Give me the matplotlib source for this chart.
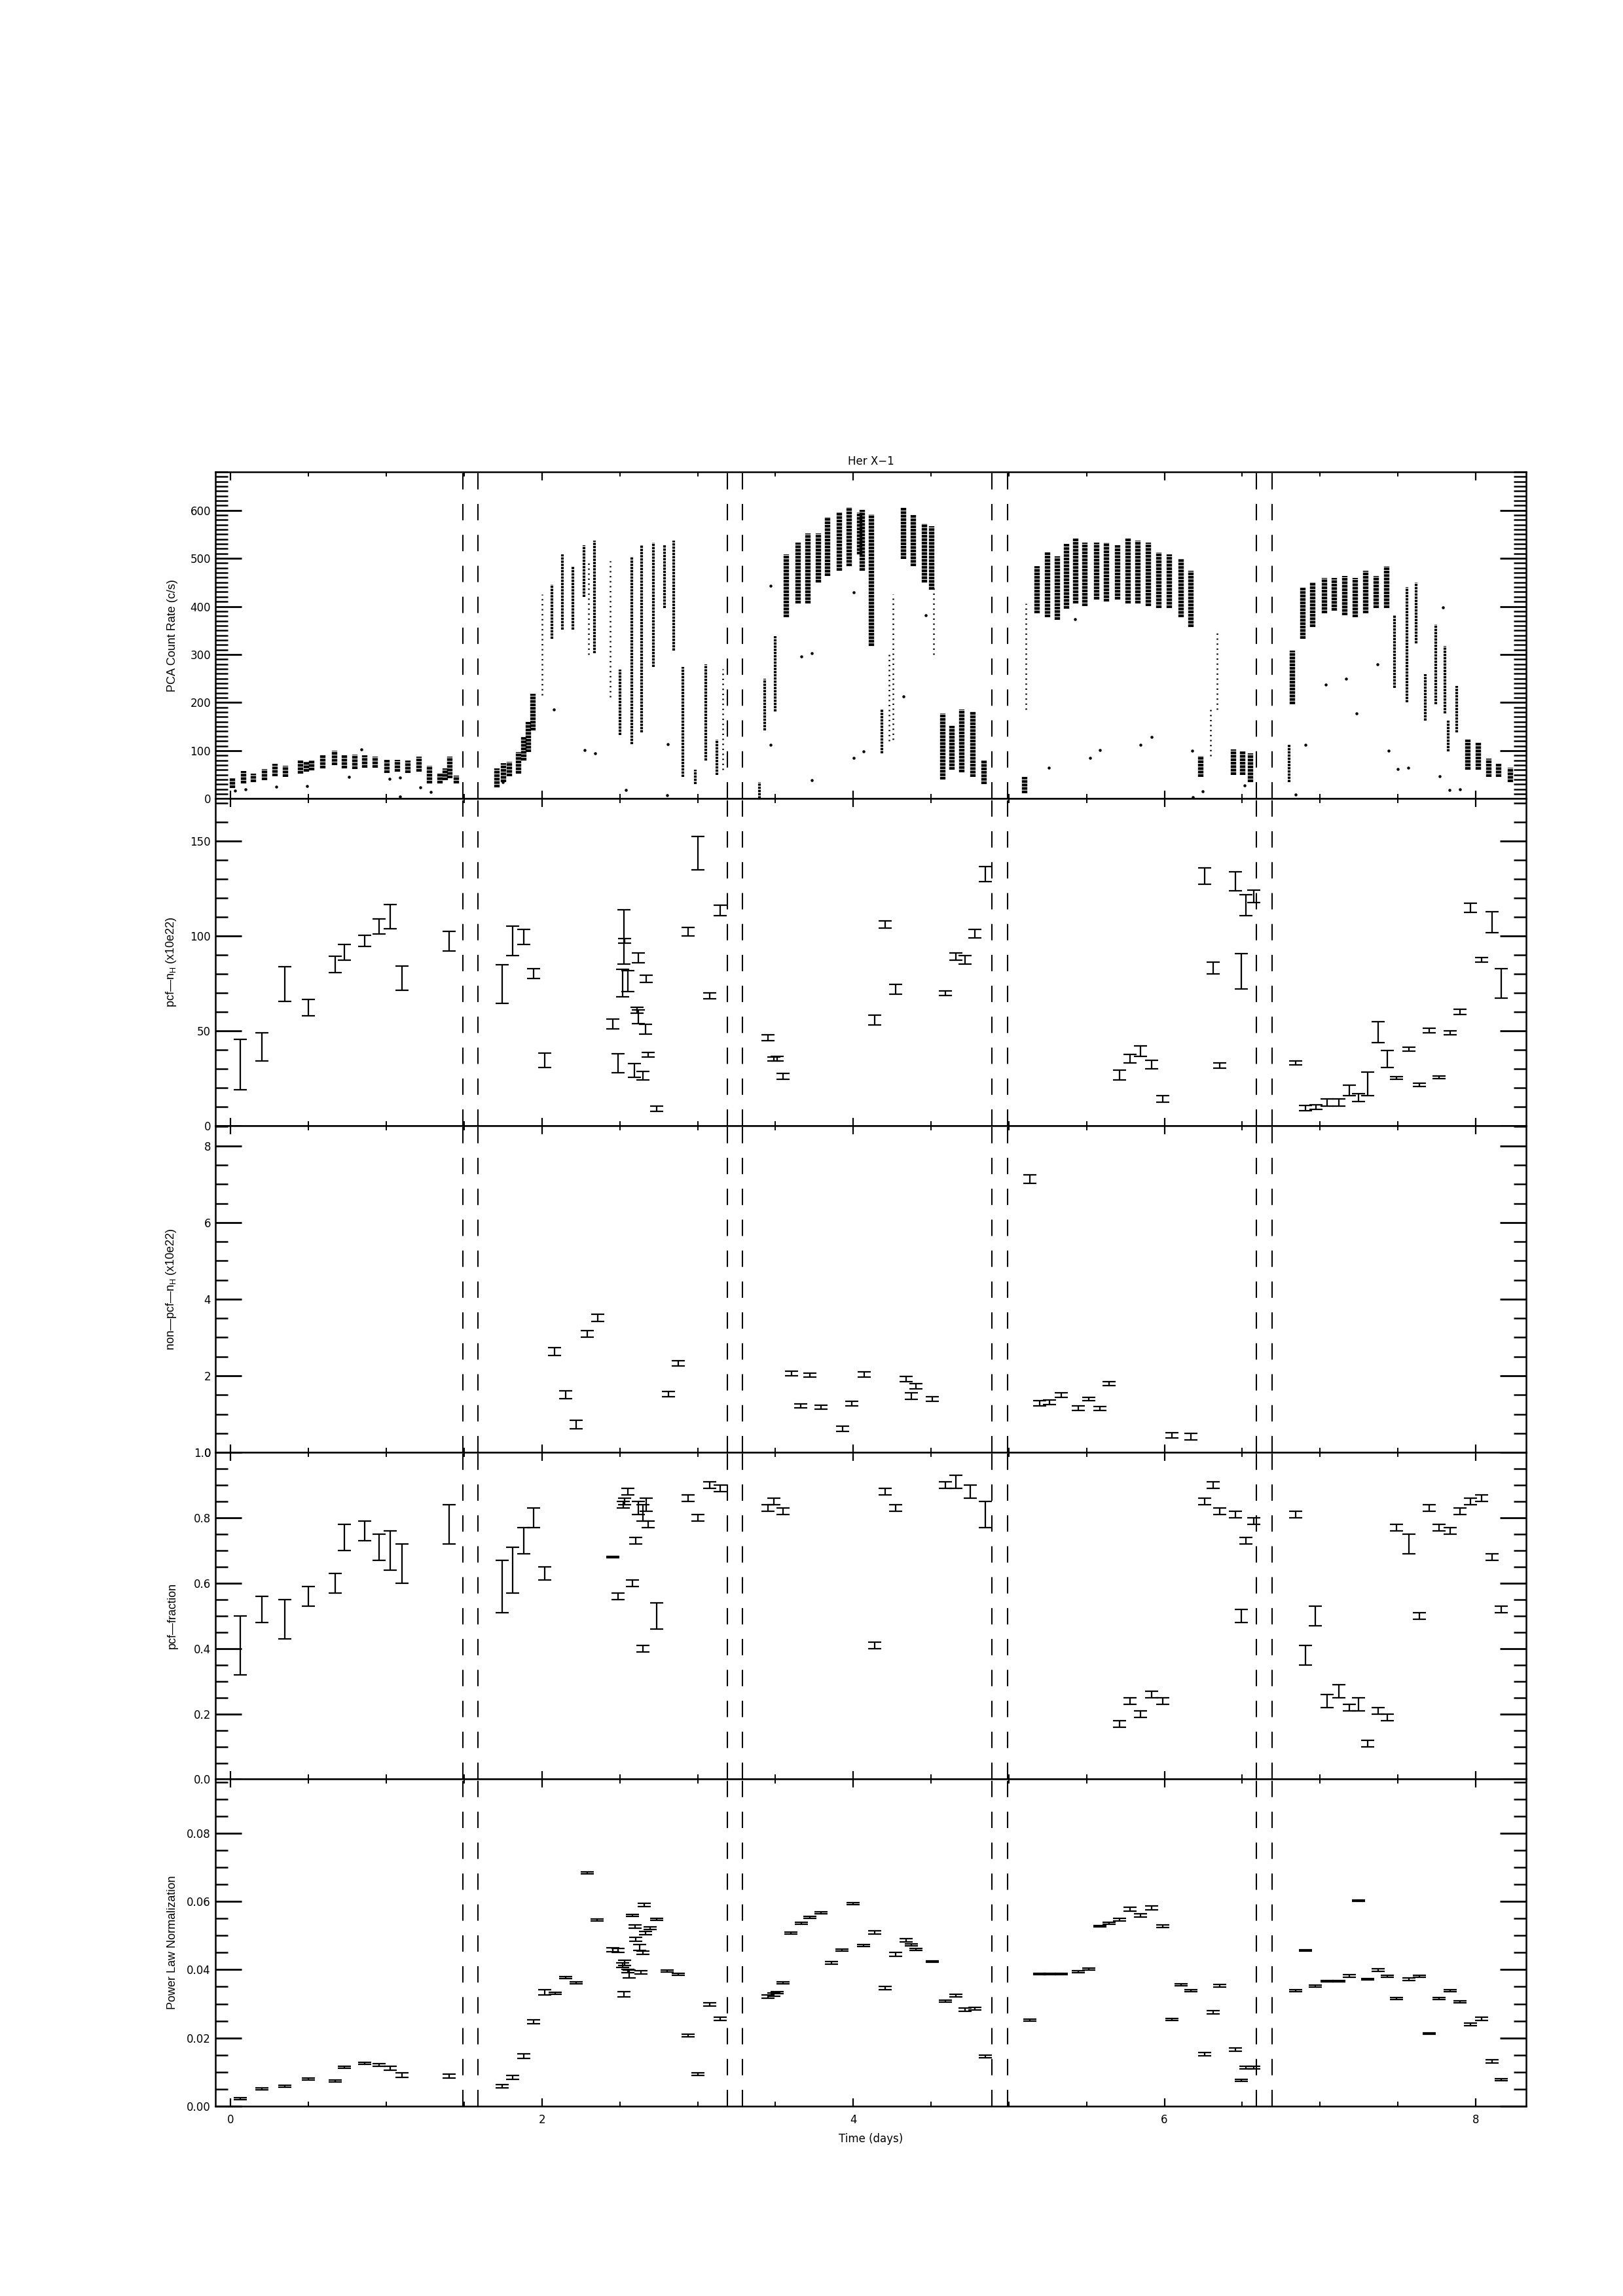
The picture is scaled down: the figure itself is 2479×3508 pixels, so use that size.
import numpy as np
import matplotlib
matplotlib.use("Agg")
import matplotlib.pyplot as plt
from matplotlib import font_manager
from matplotlib.ticker import MultipleLocator, FormatStrFormatter

# fonts: narrow face for numbers/title, plain sans for the axis titles
names = {f.name for f in font_manager.fontManager.ttflist}
NARROW = "Liberation Sans Narrow" if "Liberation Sans Narrow" in names else "DejaVu Sans"
TICK_FS = 15 if NARROW != "DejaVu Sans" else 12
LABEL_FONT = "Liberation Sans"

plt.rcParams["lines.scale_dashes"] = False
plt.rcParams["mathtext.fontset"] = "custom"
plt.rcParams["mathtext.rm"] = LABEL_FONT

# eclipse ingress / egress (days)
eclipse_t = [1.49, 1.59, 3.19, 3.29, 4.89, 4.99, 6.59, 6.69]

# ---- PCA light curve, densely sampled pointings (time, min rate, max rate)
lc_t = [0.009, 0.082, 0.146, 0.217, 0.284, 0.350, 0.447, 0.485, 0.520, 0.593,
        0.668, 0.732, 0.797, 0.861, 0.926, 1.005, 1.072, 1.140, 1.211, 1.276,
        1.345, 1.377, 1.409, 1.448, 1.710, 1.753, 1.791, 1.849, 1.881, 1.914,
        1.942,
        3.570, 3.644, 3.709, 3.777, 3.836, 3.910, 3.975, 4.043, 4.058, 4.118,
        4.325, 4.384, 4.457, 4.502, 4.575, 4.634, 4.699, 4.767, 4.841, 5.100,
        5.180, 5.248, 5.313, 5.372, 5.431, 5.490, 5.564, 5.629, 5.697, 5.765,
        5.830, 5.898, 5.963, 6.031, 6.105, 6.170, 6.235, 6.442, 6.501, 6.554,
        6.820, 6.888, 6.953, 7.028, 7.092, 7.160, 7.228, 7.293, 7.361, 7.426,
        7.948, 8.016, 8.084, 8.149, 8.223]
lc_lo = [22, 32, 34, 38, 47, 46, 52, 56, 59, 63,
         70, 63, 61, 65, 65, 54, 56, 54, 56, 32,
         32, 38, 43, 32, 23, 34, 47, 52, 79, 97,
         142,
         377, 406, 406, 450, 464, 474, 484, 508, 474, 318,
         499, 484, 450, 435, 40, 60, 55, 45, 30, 11,
         386, 377, 372, 395, 406, 401, 415, 410, 415, 406,
         406, 401, 396, 396, 377, 357, 45, 50, 50, 35,
         196, 333, 357, 386, 391, 381, 377, 386, 396, 396,
         60, 60, 45, 45, 35]
lc_hi = [43, 57, 52, 62, 72, 68, 79, 77, 79, 90,
         100, 90, 92, 90, 88, 81, 81, 79, 88, 68,
         54, 63, 87, 48, 63, 74, 77, 97, 128, 160,
         218,
         508, 533, 552, 552, 586, 596, 606, 596, 601, 591,
         606, 591, 572, 567, 177, 152, 186, 181, 79, 45,
         484, 513, 504, 530, 542, 533, 533, 533, 528, 542,
         537, 533, 513, 508, 499, 474, 89, 103, 98, 94,
         308, 440, 450, 459, 459, 464, 459, 474, 464, 484,
         123, 118, 84, 74, 64]

# thinner pointings (fast variability / dips)
th_t = [2.064, 2.129, 2.197, 2.271, 2.336, 2.501, 2.575, 2.640, 2.714, 2.788,
        2.847, 2.906, 2.986, 3.054, 3.122, 3.399, 3.432, 3.497, 4.185, 6.800,
        7.477, 7.559, 7.618, 7.677, 7.742, 7.801, 7.825, 7.877]
th_lo = [333, 352, 352, 420, 303, 133, 113, 138, 274, 396,
         308, 45, 30, 79, 50, 0, 142, 181, 94, 35,
         230, 201, 323, 162, 196, 177, 99, 138]
th_hi = [445, 508, 484, 528, 537, 269, 503, 528, 533, 528,
         537, 274, 60, 279, 123, 35, 250, 338, 186, 113,
         381, 440, 450, 259, 362, 318, 162, 235]

# sparsely sampled streaks
sp_t = [2.000, 2.300, 2.439, 4.257, 4.516, 5.110, 6.297, 6.339, 3.160, 4.230]
sp_lo = [215, 300, 211, 123, 300, 186, 89, 186, 60, 120]
sp_hi = [425, 490, 494, 425, 440, 406, 186, 352, 270, 300]

# isolated points
pt_t = [0.028, 0.095, 0.294, 0.492, 0.758, 0.840, 1.022, 1.089, 1.089, 1.220,
        1.284, 1.748, 2.075, 2.274, 2.343, 2.541, 2.805, 2.807, 3.467, 3.665,
        3.733, 3.733, 4.002, 4.067, 4.002, 3.467, 4.325, 4.464, 5.255, 5.521,
        5.586, 5.848, 5.916, 6.178, 6.246, 6.182, 6.513, 6.841, 6.908, 7.038,
        7.168, 7.236, 7.371, 7.440, 7.500, 7.567, 7.768, 7.833, 7.901, 7.788,
        5.426]
pt_r = [17, 19, 25, 26, 46, 103, 41, 44, 5, 23,
        14, 35, 185, 101, 94, 18, 7, 114, 112, 296,
        303, 38, 85, 99, 429, 443, 213, 381, 65, 85,
        101, 112, 129, 100, 15, 3, 28, 8, 112, 238,
        250, 178, 280, 100, 61, 64, 47, 18, 19, 398,
        373]

# ---- partial covering column density (x1e22)
nh_t = [0.062, 0.201, 0.346, 0.499, 0.670, 0.729, 0.862, 0.951, 1.025, 1.099,
        1.403, 1.742, 1.813, 1.881, 1.946, 2.017, 2.454, 2.487, 2.516, 2.528,
        2.531, 2.552, 2.593, 2.611, 2.620, 2.620, 2.649, 2.664, 2.670, 2.684,
        2.738, 2.939, 3.003, 3.077, 3.145, 3.452, 3.491, 3.512, 3.550, 4.138,
        4.206, 4.274, 4.593, 4.661, 4.720, 4.782, 4.847, 5.710, 5.778, 5.848,
        5.916, 5.987, 6.258, 6.315, 6.356, 6.454, 6.495, 6.525, 6.572, 6.841,
        6.908, 6.974, 7.045, 7.121, 7.189, 7.248, 7.304, 7.375, 7.434, 7.490,
        7.570, 7.638, 7.700, 7.765, 7.836, 7.901, 7.966, 8.036, 8.104, 8.166]
nh = [32.2, 41.6, 74.7, 62.2, 85.0, 91.4, 97.4, 105.0, 110.2, 77.8,
      97.3, 74.6, 97.4, 99.5, 80.2, 34.4, 53.6, 32.7, 75.1, 99.5,
      97.4, 76.2, 29.1, 60.7, 88.4, 57.4, 26.3, 50.9, 77.4, 37.3,
      8.8, 102.2, 143.6, 68.5, 113.5, 46.3, 35.1, 35.3, 25.9, 55.6,
      106.0, 71.8, 69.8, 89.1, 87.5, 101.1, 132.5, 26.6, 35.3, 39.3,
      32.1, 14.1, 131.6, 83.1, 31.7, 128.8, 81.4, 116.3, 120.8, 33.1,
      9.1, 9.7, 12.1, 12.1, 18.5, 14.7, 22.0, 49.3, 35.1, 25.2,
      40.3, 21.4, 50.1, 25.5, 48.9, 59.9, 114.8, 87.5, 107.4, 75.0]
nh_err = [13.2, 7.4, 9.1, 4.4, 4.3, 4.1, 3.0, 4.0, 6.4, 6.4,
          5.2, 10.2, 7.8, 4.0, 2.6, 3.8, 2.6, 5.0, 7.2, 14.4,
          1.3, 5.4, 3.6, 1.6, 2.6, 3.6, 2.4, 2.6, 1.9, 1.3,
          1.3, 2.3, 8.8, 1.5, 2.8, 1.5, 1.2, 1.2, 1.6, 2.6,
          2.0, 2.6, 1.2, 1.8, 2.2, 2.3, 4.0, 2.6, 2.1, 2.8,
          2.2, 1.8, 4.3, 3.1, 1.5, 5.0, 9.4, 5.6, 3.3, 1.0,
          1.4, 1.1, 2.0, 2.0, 2.7, 2.2, 6.2, 5.6, 4.5, 0.7,
          1.1, 0.9, 1.1, 0.8, 1.1, 1.3, 2.4, 1.2, 5.5, 7.7]

# ---- non partial covering column density (x1e22)
nh2_t = [2.082, 2.153, 2.221, 2.289, 2.360, 2.812, 2.877, 3.603, 3.662, 3.721,
         3.792, 3.931, 3.990, 4.070, 4.339, 4.374, 4.404, 4.507, 5.137, 5.196,
         5.263, 5.335, 5.447, 5.512, 5.583, 5.645, 6.049, 6.170]
nh2 = [2.63, 1.51, 0.72, 3.09, 3.51, 1.52, 2.32, 2.06, 1.21, 2.01,
       1.18, 0.61, 1.27, 2.04, 1.92, 1.47, 1.72, 1.39, 7.13, 1.28,
       1.31, 1.49, 1.16, 1.39, 1.15, 1.80, 0.45, 0.41]
nh2_err = [0.10, 0.10, 0.11, 0.09, 0.09, 0.07, 0.07, 0.06, 0.05, 0.05,
           0.05, 0.07, 0.06, 0.07, 0.07, 0.08, 0.07, 0.06, 0.11, 0.07,
           0.06, 0.06, 0.06, 0.04, 0.05, 0.05, 0.07, 0.08]

# ---- covering fraction
pcf_t = [0.062, 0.201, 0.346, 0.499, 0.670, 0.729, 0.862, 0.951, 1.025, 1.099,
         1.403, 1.742, 1.813, 1.881, 1.946, 2.017, 2.454, 2.487, 2.522, 2.531,
         2.552, 2.581, 2.602, 2.620, 2.649, 2.670, 2.684, 2.649, 2.738, 2.939,
         3.003, 3.077, 3.145, 3.452, 3.491, 3.550, 4.138, 4.206, 4.274, 4.593,
         4.661, 4.750, 4.847, 5.710, 5.778, 5.848, 5.916, 5.987, 6.258, 6.315,
         6.356, 6.454, 6.495, 6.525, 6.572, 6.841, 6.908, 6.968, 7.045, 7.121,
         7.189, 7.248, 7.304, 7.375, 7.434, 7.490, 7.570, 7.638, 7.700, 7.765,
         7.836, 7.901, 7.966, 8.036, 8.104, 8.166]
pcf = [0.41, 0.52, 0.49, 0.56, 0.60, 0.74, 0.76, 0.71, 0.70, 0.66,
       0.78, 0.59, 0.64, 0.73, 0.80, 0.63, 0.68, 0.56, 0.84, 0.85,
       0.88, 0.60, 0.73, 0.83, 0.815, 0.84, 0.78, 0.40, 0.50, 0.86,
       0.80, 0.90, 0.89, 0.83, 0.85, 0.82, 0.41, 0.88, 0.83, 0.90,
       0.91, 0.88, 0.81, 0.17, 0.24, 0.20, 0.26, 0.24, 0.85, 0.90,
       0.82, 0.81, 0.50, 0.73, 0.79, 0.81, 0.38, 0.50, 0.24, 0.27,
       0.22, 0.23, 0.11, 0.21, 0.19, 0.77, 0.72, 0.50, 0.83, 0.77,
       0.76, 0.82, 0.85, 0.86, 0.68, 0.52]
pcf_err = [0.09, 0.04, 0.06, 0.03, 0.03, 0.04, 0.03, 0.04, 0.06, 0.06,
           0.06, 0.08, 0.07, 0.04, 0.03, 0.02, 0.002, 0.01, 0.01, 0.01,
           0.01, 0.01, 0.01, 0.02, 0.025, 0.02, 0.01, 0.01, 0.04, 0.01,
           0.01, 0.01, 0.01, 0.01, 0.01, 0.01, 0.01, 0.01, 0.01, 0.01,
           0.02, 0.02, 0.04, 0.01, 0.01, 0.01, 0.01, 0.01, 0.01, 0.01,
           0.01, 0.01, 0.02, 0.01, 0.01, 0.01, 0.03, 0.03, 0.02, 0.02,
           0.01, 0.02, 0.01, 0.01, 0.01, 0.01, 0.03, 0.01, 0.01, 0.01,
           0.01, 0.01, 0.01, 0.01, 0.01, 0.01]

# ---- power law normalization
pl_t = [0.062, 0.201, 0.346, 0.499, 0.670, 0.729, 0.862, 0.951, 1.025, 1.099,
        1.403, 1.742, 1.813, 1.881, 1.946, 2.017, 2.085, 2.153, 2.221, 2.289,
        2.354, 2.454, 2.487, 2.516, 2.528, 2.531, 2.552, 2.561, 2.581, 2.596,
        2.602, 2.629, 2.634, 2.649, 2.655, 2.664, 2.693, 2.738, 2.806, 2.874,
        2.939, 3.003, 3.077, 3.145, 3.452, 3.491, 3.512, 3.550, 3.600, 3.668,
        3.721, 3.792, 3.860, 3.928, 3.999, 4.067, 4.138, 4.206, 4.274, 4.339,
        4.374, 4.404, 4.507, 4.593, 4.661, 4.720, 4.782, 4.847, 5.137, 5.196,
        5.263, 5.335, 5.447, 5.512, 5.583, 5.645, 5.710, 5.778, 5.848, 5.916,
        5.987, 6.049, 6.108, 6.170, 6.258, 6.315, 6.356, 6.454, 6.495, 6.525,
        6.572, 6.841, 6.908, 6.968, 7.045, 7.121, 7.189, 7.248, 7.304, 7.375,
        7.434, 7.490, 7.570, 7.638, 7.700, 7.765, 7.836, 7.901, 7.966, 8.036,
        8.104, 8.166]
pl = [0.0022, 0.0051, 0.0058, 0.0080, 0.0073, 0.0114, 0.0126, 0.0121, 0.0111, 0.0091,
      0.0088, 0.0058, 0.0084, 0.0147, 0.0247, 0.0334, 0.0331, 0.0376, 0.0361, 0.0683,
      0.0546, 0.0458, 0.0457, 0.0413, 0.0328, 0.0420, 0.0396, 0.0387, 0.0559, 0.0527,
      0.0489, 0.0465, 0.0392, 0.0450, 0.0590, 0.0507, 0.0521, 0.0547, 0.0396, 0.0387,
      0.0207, 0.0093, 0.0298, 0.0256, 0.0321, 0.0327, 0.0332, 0.0361, 0.0507, 0.0536,
      0.0553, 0.0566, 0.0420, 0.0458, 0.0594, 0.0470, 0.0509, 0.0346, 0.0445, 0.0486,
      0.0472, 0.0459, 0.0423, 0.0308, 0.0324, 0.0282, 0.0285, 0.0145, 0.0252, 0.0387,
      0.0387, 0.0387, 0.0394, 0.0402, 0.0528, 0.0536, 0.0546, 0.0577, 0.0559, 0.0581,
      0.0528, 0.0254, 0.0356, 0.0339, 0.0152, 0.0275, 0.0352, 0.0165, 0.0076, 0.0113,
      0.0113, 0.0339, 0.0457, 0.0352, 0.0367, 0.0367, 0.0381, 0.0603, 0.0372, 0.0398,
      0.0380, 0.0315, 0.0372, 0.0381, 0.0212, 0.0315, 0.0339, 0.0305, 0.0239, 0.0256,
      0.0131, 0.0078]
pl_err = [0.0003, 0.0003, 0.0003, 0.0003, 0.0003, 0.0003, 0.0003, 0.0004, 0.0005, 0.0006,
          0.0005, 0.0005, 0.0006, 0.0007, 0.0006, 0.0008, 0.0003, 0.0003, 0.0003, 0.0003,
          0.0003, 0.0006, 0.0006, 0.0006, 0.0008, 0.0008, 0.0004, 0.0012, 0.0003, 0.0005,
          0.0005, 0.0008, 0.0005, 0.0005, 0.0005, 0.0005, 0.0004, 0.0003, 0.0003, 0.0003,
          0.0003, 0.0004, 0.0004, 0.0004, 0.0004, 0.0004, 0.0003, 0.0003, 0.0003, 0.0003,
          0.0003, 0.0003, 0.0003, 0.0003, 0.0003, 0.0003, 0.0004, 0.0004, 0.0006, 0.0004,
          0.0003, 0.0003, 0.0002, 0.0003, 0.0004, 0.0005, 0.0004, 0.0004, 0.0002, 0.0002,
          0.0002, 0.0002, 0.0003, 0.0003, 0.0002, 0.0003, 0.0004, 0.0005, 0.0005, 0.0005,
          0.0004, 0.0002, 0.0003, 0.0003, 0.0005, 0.0005, 0.0004, 0.0005, 0.0003, 0.0003,
          0.0003, 0.0003, 0.0002, 0.0003, 0.0002, 0.0002, 0.0004, 0.0002, 0.0002, 0.0004,
          0.0003, 0.0003, 0.0003, 0.0003, 0.0002, 0.0003, 0.0003, 0.0003, 0.0004, 0.0004,
          0.0005, 0.0003]

# ---------------------------------------------------------------- figure
fig = plt.figure(figsize=(24.79, 35.08), dpi=100)
left, width = 0.1327, 0.8076
top, h = 0.7945, 0.14236
axes = [fig.add_axes([left, top - (i + 1) * h, width, h]) for i in range(5)]

ylims = [(0, 680), (0, 172.4), (0, 8.53), (0, 1.0), (0, 0.0958)]
ymajor = [100, 50, 2, 0.2, 0.02]
yminor = [10, 10, 0.5, 0.05, 0.005]
yfmt = ["%d", "%d", "%d", "%.1f", "%.2f"]
ylabels = ["PCA Count Rate (c/s)",
           "pcf\u2014n$_{\\rm H}$ (x10e22)",
           "non\u2014pcf\u2014n$_{\\rm H}$ (x10e22)",
           "pcf\u2014fraction",
           "Power Law Normalization"]

for i, ax in enumerate(axes):
    ax.set_xlim(-0.099, 8.324)
    ax.set_ylim(*ylims[i])
    ax.xaxis.set_major_locator(MultipleLocator(2))
    ax.xaxis.set_minor_locator(MultipleLocator(0.5))
    ax.yaxis.set_major_locator(MultipleLocator(ymajor[i]))
    ax.yaxis.set_minor_locator(MultipleLocator(yminor[i]))
    ax.yaxis.set_major_formatter(FormatStrFormatter(yfmt[i]))
    ax.tick_params(which="both", direction="in", top=True, right=True,
                   labelsize=TICK_FS, color="k")
    ax.tick_params(axis="y", which="major", length=29, width=2.0, pad=5)
    ax.tick_params(axis="y", which="minor", length=14, width=1.8)
    ax.tick_params(axis="x", which="major", length=9, width=1.6, pad=9)
    ax.tick_params(axis="x", which="minor", length=5, width=1.4)
    for lab in ax.get_xticklabels() + ax.get_yticklabels():
        lab.set_family(NARROW)
    for sp in ax.spines.values():
        sp.set_linewidth(1.8)
    if i < 4:
        ax.tick_params(axis="x", labelbottom=False)
    ax.set_ylabel(ylabels[i], fontsize=13, family=LABEL_FONT)
    ax.yaxis.set_label_coords(-0.0285, 0.5)
    for x in eclipse_t:
        ax.axvline(x, color="k", lw=1.5, dashes=(18, 16), zorder=1)

# light curve: streaks drawn with a fine break pattern to look like packed dots
ax = axes[0]
ax.vlines(lc_t, lc_lo, lc_hi, color="k", lw=6.0, linestyles=(0, (3, 0.8)), zorder=3)
ax.vlines(th_t, th_lo, th_hi, color="k", lw=3.0, linestyles=(0, (2.5, 1)), zorder=3)
ax.vlines(sp_t, sp_lo, sp_hi, color="k", lw=1.8, linestyles=(0, (1.5, 4)), zorder=3)
ax.scatter(pt_t, pt_r, s=5, color="k", zorder=3)
ax.set_title("Her X\u22121", fontsize=TICK_FS, family=NARROW, pad=8)

eb = dict(fmt="none", ecolor="k", elinewidth=1.6, capsize=7, capthick=1.6, zorder=3)
axes[1].errorbar(nh_t, nh, yerr=nh_err, **eb)
axes[2].errorbar(nh2_t, nh2, yerr=nh2_err, **eb)
axes[3].errorbar(pcf_t, pcf, yerr=pcf_err, **eb)
axes[4].errorbar(pl_t, pl, yerr=pl_err, **eb)

axes[4].set_xlabel("Time (days)", fontsize=TICK_FS, family=NARROW, labelpad=8)

fig.savefig("out.png", dpi=100)
